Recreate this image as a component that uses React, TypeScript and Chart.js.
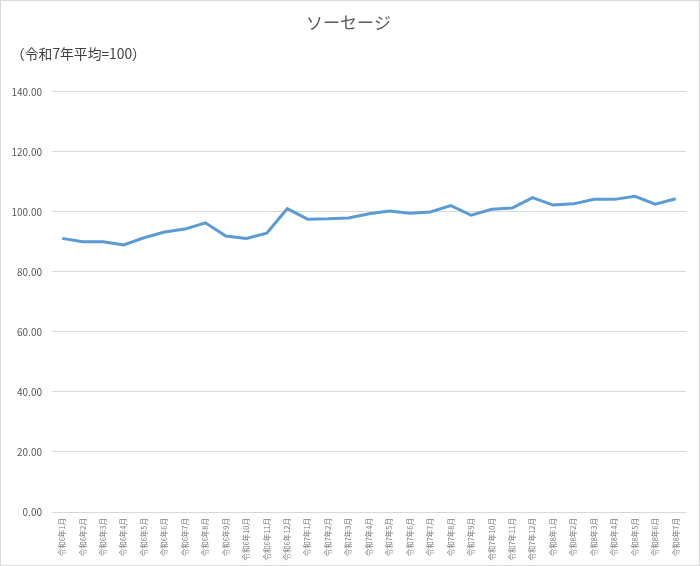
import { useEffect, useRef } from 'react';
import { Chart, registerables } from 'chart.js';

Chart.register(...registerables);

const months: string[] = [
  '令和6年1月', '令和6年2月', '令和6年3月', '令和6年4月', '令和6年5月', '令和6年6月',
  '令和6年7月', '令和6年8月', '令和6年9月', '令和6年10月', '令和6年11月', '令和6年12月',
  '令和7年1月', '令和7年2月', '令和7年3月', '令和7年4月', '令和7年5月', '令和7年6月',
  '令和7年7月', '令和7年8月', '令和7年9月', '令和7年10月', '令和7年11月', '令和7年12月',
  '令和8年1月', '令和8年2月', '令和8年3月', '令和8年4月', '令和8年5月', '令和8年6月',
  '令和8年7月',
];

const sausageIndex: number[] = [
  91.2, 90.1, 90.1, 89.0, 91.4, 93.3, 94.3, 96.4, 92.0, 91.2, 92.9, 101.1,
  97.6, 97.7, 98.0, 99.4, 100.3, 99.6, 100.0, 102.1, 98.9, 100.9, 101.3, 104.8,
  102.3, 102.7, 104.2, 104.2, 105.2, 102.6, 104.4,
];

const yMin = 0;
const yMax = 140;
const yStep = 20;

const titleText = 'ソーセージ';
const unitText = '（令和7年平均=100）';

const FONT = '"Noto Sans CJK JP", "Noto Sans", sans-serif';

export default function App() {
  const chartRef = useRef<HTMLCanvasElement>(null);
  const chartInstance = useRef<Chart | null>(null);

  useEffect(() => {
    document.body.style.margin = '0';
    if (chartRef.current) {
      if (chartInstance.current) {
        chartInstance.current.destroy();
      }
      const ctx = chartRef.current.getContext('2d');
      if (ctx) {
        chartInstance.current = new Chart(ctx, {
          type: 'line',
          data: {
            labels: months,
            datasets: [
              {
                label: titleText,
                data: sausageIndex,
                borderColor: '#5B9BD5',
                backgroundColor: '#5B9BD5',
                borderWidth: 3,
                pointRadius: 0,
                tension: 0,
                fill: false,
              },
            ],
          },
          options: {
            animation: false,
            responsive: true,
            maintainAspectRatio: false,
            font: { family: FONT },
            layout: {
              padding: { left: 10, right: 13, bottom: 0 },
            },
            plugins: {
              legend: { display: false },
              tooltip: { enabled: false },
              title: {
                display: true,
                text: titleText,
                color: '#595959',
                font: { family: FONT, size: 17, weight: 'normal' },
                padding: { top: 11, bottom: 0 },
              },
              subtitle: {
                display: true,
                text: unitText,
                align: 'start',
                color: '#404040',
                font: { family: FONT, size: 13.8, weight: 'normal' },
                padding: { top: 13, bottom: 30 },
              },
            },
            scales: {
              x: {
                offset: true,
                grid: { display: false },
                border: { display: true, color: '#d9d9d9' },
                afterFit: (scale) => {
                  scale.height = 53;
                },
                ticks: {
                  autoSkip: false,
                  maxRotation: 90,
                  minRotation: 90,
                  padding: -2,
                  color: '#7f7f7f',
                  font: { family: FONT, size: 7.5 },
                },
              },
              y: {
                min: yMin,
                max: yMax,
                grid: { color: '#d9d9d9', drawTicks: false },
                border: { display: false },
                afterFit: (scale) => {
                  scale.width = 41;
                },
                ticks: {
                  stepSize: yStep,
                  padding: 10,
                  color: '#595959',
                  font: { family: FONT, size: 10 },
                  callback: (v) => Number(v).toFixed(2),
                },
              },
            },
          },
        });
      }
    }
    return () => {
      if (chartInstance.current) {
        chartInstance.current.destroy();
        chartInstance.current = null;
      }
    };
  }, []);

  return (
    <div
      style={{
        width: 700,
        height: 566,
        boxSizing: 'border-box',
        border: '1px solid #d9d9d9',
        background: '#fff',
      }}
    >
      <div style={{ position: 'relative', width: 698, height: 564 }}>
        <canvas ref={chartRef}></canvas>
      </div>
    </div>
  );
}
